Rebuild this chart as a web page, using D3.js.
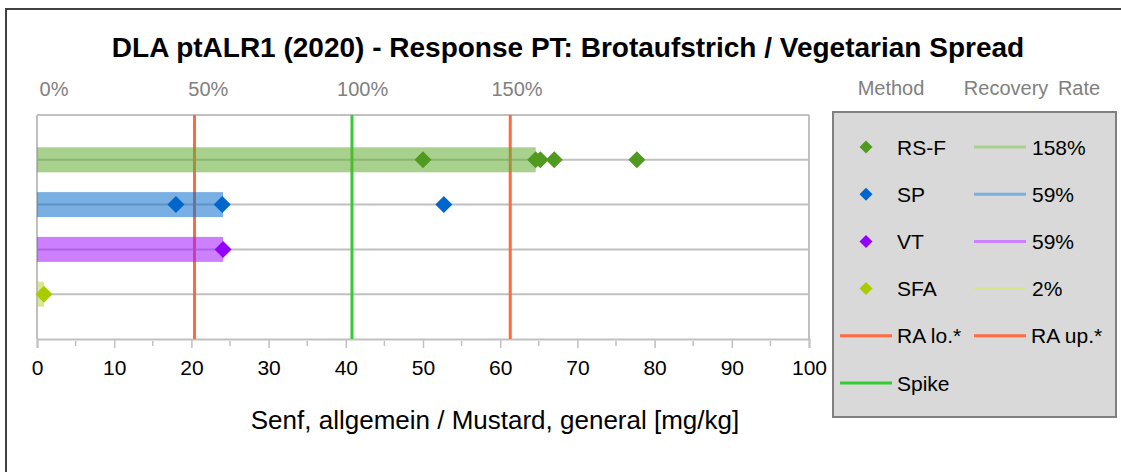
<!DOCTYPE html>
<html>
<head>
<meta charset="utf-8">
<script src="https://cdn.jsdelivr.net/npm/d3@7"></script>
<style>
  body { margin: 0; background: #fff; }
  text { font-family: "Liberation Sans", Arial, sans-serif; }
</style>
</head>
<body>
<div id="chart"></div>
<script>
const svgWidth = 1121
const svgHeight = 472

// data
const methods = ["RS-F", "SP", "VT", "SFA"]
const rsfValues = [50.0, 64.6, 65.2, 67.0, 77.7]
const spValues = [18.0, 24.0, 52.7]
const vtValues = [24.1]
const sfaValues = [0.9]
const medians = [64.6, 24.1, 24.1, 0.9]
const rates = ["158%", "59%", "59%", "2%"]
const raLo = 20.4
const raUp = 61.3
const spike = 40.8
const xTicks = d3.range(0, 101, 10)
const pctTicks = [0, 50, 100, 150]

const markerColors = ["#4f9a1f", "#0066cc", "#9400ff", "#a8cc00"]
const barColors = ["#63ab32", "#0d6ecc", "#a218ff", "#b8d52e"]
const lineColors = ["#a9d18e", "#7aafe3", "#cc80ff", "#d6e68a"]

const plot = { left: 37, right: 809, top: 115, bottom: 339 }

const svg = d3.select("#chart").append("svg")
    .attr("width", svgWidth)
    .attr("height", svgHeight)

svg.append("rect").attr("width", svgWidth).attr("height", svgHeight).attr("fill", "#fff")

// outer chart border (only left + top visible)
svg.append("path")
    .attr("d", `M6,${svgHeight} L6,9 L${svgWidth},9`)
    .attr("fill", "none")
    .attr("stroke", "#404040")
    .attr("stroke-width", 2)

const x = d3.scaleLinear().domain([0, 100]).range([plot.left, plot.right])
const y = d3.scalePoint().domain(methods).range([plot.top, plot.bottom]).padding(1)
const pct = d3.scaleLinear().domain([0, 150]).range([54, 517])

svg.append("text")
    .attr("x", 568).attr("y", 57)
    .attr("text-anchor", "middle")
    .attr("font-size", 28)
    .attr("font-weight", "bold")
    .text("DLA ptALR1 (2020) - Response PT: Brotaufstrich / Vegetarian Spread")

// top % labels
svg.append("g").selectAll("text")
    .data(pctTicks)
    .enter().append("text")
    .attr("x", d => pct(d))
    .attr("y", 96)
    .attr("text-anchor", "middle")
    .attr("font-size", 20)
    .attr("fill", "#808080")
    .text(d => d + "%")

// plot frame and gridlines
const gridG = svg.append("g").attr("stroke", "#c0c0c0").attr("stroke-width", 2)
gridG.append("line").attr("x1", plot.left).attr("x2", plot.right).attr("y1", plot.top).attr("y2", plot.top)
gridG.append("line").attr("x1", plot.right).attr("x2", plot.right).attr("y1", plot.top).attr("y2", plot.bottom)
gridG.append("line").attr("x1", plot.left).attr("x2", plot.left).attr("y1", plot.top).attr("y2", plot.bottom)
gridG.selectAll(".grid")
    .data(methods)
    .enter().append("line")
    .attr("x1", plot.left).attr("x2", plot.right)
    .attr("y1", d => y(d)).attr("y2", d => y(d))

// bottom axis
const xAxis = d3.axisBottom(x).tickValues(xTicks).tickSize(9).tickPadding(12)
const xAxisG = svg.append("g")
    .attr("transform", `translate(0, ${plot.bottom})`)
    .call(xAxis)
xAxisG.select(".domain").attr("stroke", "#c0c0c0").attr("stroke-width", 2)
xAxisG.selectAll(".tick line").attr("stroke", "#c0c0c0").attr("stroke-width", 1.5)
xAxisG.selectAll(".tick text")
    .attr("font-size", 21)
    .attr("font-family", "'Liberation Sans', Arial, sans-serif")
    .attr("fill", "#000")

svg.append("g").selectAll("line")
    .data(d3.range(5, 100, 10))
    .enter().append("line")
    .attr("x1", d => x(d)).attr("x2", d => x(d))
    .attr("y1", plot.bottom + 2).attr("y2", plot.bottom + 7)
    .attr("stroke", "#c0c0c0").attr("stroke-width", 1.5)

svg.append("text")
    .attr("x", 495).attr("y", 429)
    .attr("text-anchor", "middle")
    .attr("font-size", 26)
    .text("Senf, allgemein / Mustard, general [mg/kg]")

// reference lines
const refLines = [
    { v: raLo, c: "#ff6a40" },
    { v: spike, c: "#33cc33" },
    { v: raUp, c: "#ff6a40" }
]
svg.append("g").selectAll("line")
    .data(refLines)
    .enter().append("line")
    .attr("x1", d => x(d.v)).attr("x2", d => x(d.v))
    .attr("y1", plot.top).attr("y2", plot.bottom)
    .attr("stroke", d => d.c)
    .attr("stroke-width", 3)

// median bars
svg.append("g").selectAll("rect")
    .data(methods)
    .enter().append("rect")
    .attr("x", x(0))
    .attr("y", d => y(d) - 12.5)
    .attr("width", (d, i) => x(medians[i]) - x(0))
    .attr("height", 25)
    .attr("fill", (d, i) => barColors[i])
    .attr("fill-opacity", 0.55)

// points
const diamond = s => `M0,${-s}L${s},0L0,${s}L${-s},0Z`
const allValues = [rsfValues, spValues, vtValues, sfaValues]
const points = []
allValues.forEach((vals, i) => vals.forEach(v => points.push({ m: methods[i], i: i, v: v })))

svg.append("g").selectAll("path")
    .data(points)
    .enter().append("path")
    .attr("d", diamond(8.5))
    .attr("transform", d => `translate(${x(d.v)}, ${y(d.m)})`)
    .attr("fill", d => markerColors[d.i])

// legend
svg.append("text").attr("x", 891).attr("y", 95).attr("text-anchor", "middle")
    .attr("font-size", 20).attr("fill", "#808080").text("Method")
svg.append("text").attr("x", 1032).attr("y", 95).attr("text-anchor", "middle")
    .attr("font-size", 20).attr("fill", "#808080").attr("word-spacing", 4).text("Recovery Rate")

svg.append("rect")
    .attr("x", 833).attr("y", 112)
    .attr("width", 283).attr("height", 305)
    .attr("fill", "#d9d9d9")
    .attr("stroke", "#808080")
    .attr("stroke-width", 2)

const legendY = d3.scaleLinear().domain([0, 5]).range([147, 383])

const legRows = svg.append("g").selectAll("g")
    .data(methods)
    .enter().append("g")
    .attr("transform", (d, i) => `translate(0, ${legendY(i)})`)

legRows.append("path")
    .attr("d", diamond(6.5))
    .attr("transform", "translate(866, 0)")
    .attr("fill", (d, i) => markerColors[i])
legRows.append("text")
    .attr("x", 897).attr("y", 7.5)
    .attr("font-size", 21)
    .text(d => d)
legRows.append("line")
    .attr("x1", 974).attr("x2", 1026)
    .attr("stroke", (d, i) => lineColors[i])
    .attr("stroke-width", 3)
legRows.append("text")
    .attr("x", 1032).attr("y", 7.5)
    .attr("font-size", 21)
    .text((d, i) => rates[i])

const refLegend = [
    { label: "RA lo.*", c: "#ff6a40", x0: 840, row: 4 },
    { label: "RA up.*", c: "#ff6a40", x0: 974, row: 4 },
    { label: "Spike", c: "#33cc33", x0: 840, row: 5 }
]
const refG = svg.append("g").selectAll("g")
    .data(refLegend)
    .enter().append("g")
    .attr("transform", d => `translate(${d.x0}, ${legendY(d.row)})`)
refG.append("line")
    .attr("x1", 0).attr("x2", 52)
    .attr("stroke", d => d.c)
    .attr("stroke-width", 3)
refG.append("text")
    .attr("x", 57).attr("y", 7.5)
    .attr("font-size", 21)
    .text(d => d.label)
</script>
</body>
</html>
